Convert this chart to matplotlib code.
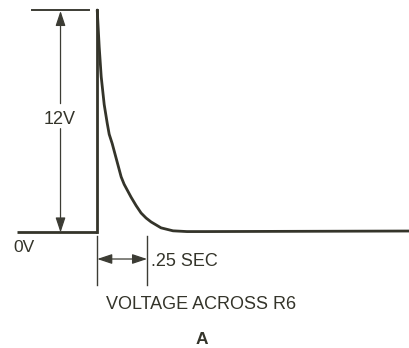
import matplotlib.pyplot as plt

# waveform: 0 V baseline, step to 12 V, then RC decay back to 0
t_base = [-0.40, 0.0]
v_base = [0.0, 0.0]
v_peak = 12.0
t_decay = [0.0, 0.005, 0.01, 0.015, 0.02, 0.028, 0.035, 0.05, 0.06, 0.075,
           0.09, 0.10, 0.12, 0.135, 0.15, 0.17, 0.195, 0.22, 0.245, 0.27,
           0.32, 0.38, 0.45, 0.55, 1.58]
v_decay = [12.0, 11.0, 10.0, 9.2, 8.4, 7.6, 6.9, 5.9, 5.3, 4.8,
           4.2, 3.8, 3.0, 2.6, 2.3, 1.9, 1.45, 1.05, 0.78, 0.57,
           0.25, 0.09, 0.05, 0.05, 0.08]
pulse_width = 0.25

# label texts
peak_label = "12V"
zero_label = "0V"
width_label = ".25 SEC"
caption = "VOLTAGE ACROSS R6"
panel = "A"

ink = "#34342a"
thin = "#3c3c34"

plt.rcParams["font.family"] = ["Liberation Sans", "DejaVu Sans"]
fig = plt.figure(figsize=(4.09, 3.48), dpi=100)
ax = fig.add_axes([0, 0, 1, 1])
ax.set_xlim(-0.4874, 1.5631)
ax.set_ylim(-6.23, 12.54)
ax.axis("off")

# main trace
ax.plot(t_base, v_base, color=ink, lw=2.0, solid_capstyle="butt")
ax.plot([t_base[-1], t_base[-1]], [0, v_peak], color=ink, lw=2.0)
ax.plot(t_decay, v_decay, color=ink, lw=2.0, solid_capstyle="round",
        solid_joinstyle="round")

# amplitude dimension
x_dim = -0.184
ax.plot([-0.326, -0.043], [v_peak, v_peak], color=thin, lw=1.4)
head = dict(color=thin, lw=0.9, mutation_scale=15,
            arrowstyle="-|>,head_length=0.6,head_width=0.2", shrinkA=0, shrinkB=0)
ax.annotate("", xy=(x_dim, v_peak - 0.05), xytext=(x_dim, 6.95), arrowprops=head)
ax.annotate("", xy=(x_dim, 0.0), xytext=(x_dim, 5.6), arrowprops=head)
ax.text(-0.186, 6.12, peak_label, ha="center", va="center", fontsize=13, color=ink)
ax.text(-0.419, -0.8, zero_label, ha="left", va="center", fontsize=12.5, color=ink)

# pulse width dimension
for tx in (0.0, pulse_width):
    ax.plot([tx, tx], [-0.2, -2.85], color=thin, lw=1.0)
ax.annotate("", xy=(0.0, -1.43), xytext=(pulse_width, -1.43),
            arrowprops=dict(color=thin, lw=0.9, mutation_scale=15,
                            arrowstyle="<|-|>,head_length=0.6,head_width=0.2",
                            shrinkA=0, shrinkB=0))
ax.text(0.27, -1.59, width_label, ha="left", va="center", fontsize=13, color=ink)

fig.text(0.491, 0.124, caption, ha="center", va="center", fontsize=13, color=ink)
fig.text(0.494, 0.023, panel, ha="center", va="center", fontsize=12.5,
         fontweight="bold", color=ink)

fig.savefig("out.png", dpi=100, facecolor="white")
